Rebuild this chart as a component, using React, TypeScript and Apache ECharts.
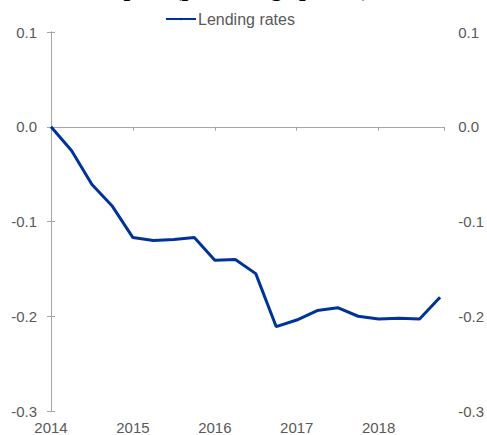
import React, { useEffect, useRef } from "react";
import * as echarts from "echarts";

const quarters: string[] = [
  "2014Q1", "2014Q2", "2014Q3", "2014Q4",
  "2015Q1", "2015Q2", "2015Q3", "2015Q4",
  "2016Q1", "2016Q2", "2016Q3", "2016Q4",
  "2017Q1", "2017Q2", "2017Q3", "2017Q4",
  "2018Q1", "2018Q2", "2018Q3", "2018Q4",
];
const lendingRates: number[] = [
  0.0, -0.025, -0.061, -0.084, -0.117, -0.12, -0.119, -0.117,
  -0.141, -0.14, -0.155, -0.211, -0.204, -0.194, -0.191, -0.2,
  -0.203, -0.202, -0.203, -0.18,
];
const yearLabels: string[] = ["2014", "2015", "2016", "2017", "2018"];
const titleText = "Impact (percentage points)";
const seriesName = "Lending rates";

export default function App() {
  const ref = useRef<HTMLDivElement>(null);
  useEffect(() => {
    if (!ref.current) return;
    const chart = echarts.init(ref.current, null, { renderer: "svg" });
    const grey = "#595959";
    const axisGrey = "#a6a6a6";
    const font = "Liberation Sans";
    const data = lendingRates.map((v, i) => [i, v]);
    const xMax = quarters.length - 1 + 0.2;
    const yAxisCommon = {
      type: "value" as const,
      min: -0.3,
      max: 0.1,
      interval: 0.1,
      splitLine: { show: false },
      axisLine: { show: true, lineStyle: { color: axisGrey, width: 1 } },
      axisTick: { show: true, inside: true, length: 4, lineStyle: { color: axisGrey } },
      axisLabel: {
        color: grey,
        fontSize: 15,
        fontFamily: font,
        margin: 14,
        formatter: (v: number) => v.toFixed(1),
      },
    };
    chart.setOption({
      animation: false,
      graphic: [
        {
          type: "text",
          x: 232,
          y: 0,
          style: {
            text: titleText,
            font: "bold 24px 'Liberation Serif'",
            fill: "#000",
            align: "center",
            verticalAlign: "bottom",
          },
        },
      ],
      legend: {
        show: true,
        left: 160,
        top: 6,
        itemWidth: 30,
        itemHeight: 3,
        itemGap: 5,
        textStyle: { color: grey, fontSize: 16, fontFamily: font, padding: [0, 0, 0, -3] },
        data: [seriesName],
      },
      grid: { left: 51, right: 42, top: 32, bottom: 23, containLabel: false },
      xAxis: [
        {
          type: "value",
          min: 0,
          max: xMax,
          interval: 4,
          position: "bottom",
          axisLine: { show: true, onZero: true, lineStyle: { color: axisGrey, width: 1 } },
          axisTick: { show: true, length: 4, lineStyle: { color: axisGrey } },
          axisLabel: { show: false },
          splitLine: { show: false },
        },
        {
          type: "value",
          min: 0,
          max: xMax,
          interval: 4,
          position: "bottom",
          axisLine: { show: false, onZero: false },
          axisTick: { show: false },
          splitLine: { show: false },
          axisLabel: {
            color: grey,
            fontSize: 15,
            fontFamily: font,
            margin: 9,
            showMaxLabel: false,
            formatter: (v: number) => yearLabels[Math.round(v / 4)] ?? "",
          },
        },
      ],
      yAxis: [
        { ...yAxisCommon, position: "left" },
        { ...yAxisCommon, position: "right" },
      ],
      series: [
        {
          name: seriesName,
          type: "line",
          xAxisIndex: 0,
          yAxisIndex: 0,
          data,
          symbol: "none",
          lineStyle: { color: "#003399", width: 3 },
          itemStyle: { color: "#003399" },
        },
      ],
    });
    return () => chart.dispose();
  }, []);
  return <div ref={ref} style={{ width: 487, height: 435, position: "absolute", left: 0, top: 0 }} />;
}
